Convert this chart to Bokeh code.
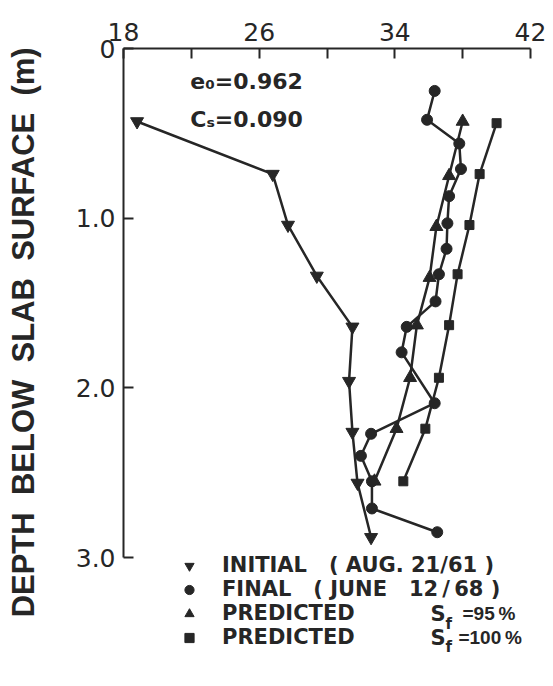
from bokeh.plotting import figure
from bokeh.models import (Range1d, FixedTicker, Legend, LegendItem, Label)
from bokeh.embed import file_html
from bokeh.resources import INLINE

# ---- data ----
initial_x = [18.8, 26.8, 27.7, 29.4, 31.5, 31.3, 31.5, 31.8, 32.6]
initial_d = [0.43, 0.74, 1.04, 1.34, 1.64, 1.96, 2.26, 2.56, 2.88]

final_x = [36.35, 35.9, 37.8, 37.9, 37.2, 37.1, 37.05, 36.6, 36.4, 34.7, 34.4,
           36.35, 32.6, 32.0, 32.65, 32.65, 36.5]
final_d = [0.25, 0.42, 0.56, 0.71, 0.87, 1.03, 1.18, 1.33, 1.49, 1.64, 1.79,
           2.09, 2.27, 2.40, 2.55, 2.71, 2.85]

pred95_x = [38.0, 37.2, 36.45, 36.05, 35.3, 34.9, 34.1, 32.8]
pred95_d = [0.43, 0.75, 1.05, 1.35, 1.63, 1.94, 2.24, 2.55]

pred100_x = [40.0, 39.0, 38.4, 37.7, 37.2, 36.6, 35.8, 34.5]
pred100_d = [0.44, 0.74, 1.04, 1.33, 1.63, 1.94, 2.24, 2.55]

x_major_ticks = [18, 26, 34, 42]
x_minor_ticks = [22, 30, 38]
y_ticks = [0, 1, 2, 3]
y_tick_labels = {0: "0", 1: "1.0", 2: "2.0", 3: "3.0"}

NB = "\u00a0"
TH = "\u2009"
legend_labels = ["INITIAL" + NB * 3 + "(" + NB + "AUG." + NB + "21/61" + NB + ")",
                 "FINAL" + NB * 3 + "(" + NB + "JUNE" + NB * 3 + "12" + TH + "/" + TH + "68" + NB + ")",
                 "PREDICTED", "PREDICTED"]
legend_suffix = ["=95" + TH + "%", "=100" + TH + "%"]
y_title = NB * 7 + (NB * 2).join(["DEPTH", "BELOW", "SLAB", "SURFACE", "(m)"])

INK = "#262626"
FONT = "DejaVu Sans"

p = figure(width=553, height=686, x_range=Range1d(18, 42), y_range=Range1d(3.7, 0),
           x_axis_location="above", output_backend="svg", toolbar_location=None,
           min_border_left=123, min_border_right=23, min_border_top=48,
           min_border_bottom=10)
p.outline_line_color = None
p.xgrid.visible = False
p.ygrid.visible = False
p.background_fill_color = "white"
p.border_fill_color = "white"

# x axis (top)
xa = p.xaxis[0]
xa.ticker = FixedTicker(ticks=x_major_ticks, minor_ticks=x_minor_ticks)
xa.major_tick_in = 10
xa.major_tick_out = 0
xa.minor_tick_in = 10
xa.minor_tick_out = 0
xa.axis_line_width = 2
xa.major_tick_line_width = 2
xa.minor_tick_line_width = 2
xa.axis_line_color = INK
xa.major_tick_line_color = INK
xa.minor_tick_line_color = INK
xa.major_label_text_font = FONT
xa.major_label_text_font_size = "25px"
xa.major_label_text_color = INK
xa.major_label_standoff = 8

# y axis (left)
ya = p.yaxis[0]
ya.ticker = FixedTicker(ticks=y_ticks, minor_ticks=[])
ya.bounds = (0, 3)
ya.major_label_overrides = y_tick_labels
ya.major_tick_in = 10
ya.major_tick_out = 0
ya.minor_tick_in = 0
ya.minor_tick_out = 0
ya.axis_line_width = 2
ya.major_tick_line_width = 2
ya.axis_line_color = INK
ya.major_tick_line_color = INK
ya.major_label_text_font = FONT
ya.major_label_text_font_size = "25px"
ya.major_label_text_color = INK
ya.major_label_standoff = 8
ya.axis_label = y_title
ya.axis_label_text_font = "Liberation Sans"
ya.axis_label_text_font_style = "bold"
ya.axis_label_text_font_size = "31px"
ya.axis_label_text_color = INK
ya.axis_label_standoff = 32

LW = 2.5
series = [
    (initial_x, initial_d, "inverted_triangle", 13),
    (final_x, final_d, "circle", 11),
    (pred95_x, pred95_d, "triangle", 13),
    (pred100_x, pred100_d, "square", 9),
]
marker_renderers = []
for xs, ds, mk, sz in series:
    p.line(xs, ds, line_color=INK, line_width=LW)
    r = p.scatter(xs, ds, marker=mk, size=sz, fill_color=INK, line_color=INK)
    marker_renderers.append(r)

legend = Legend(items=[LegendItem(label=lab, renderers=[r])
                       for lab, r in zip(legend_labels, marker_renderers)],
                location=(51, 27))
legend.border_line_color = None
legend.background_fill_alpha = 0
legend.padding = 0
legend.spacing = 0
legend.margin = 0
legend.glyph_width = 30
legend.glyph_height = 23
legend.label_height = 20
legend.label_standoff = 18
legend.label_text_font = FONT
legend.label_text_font_style = "bold"
legend.label_text_font_size = "21px"
legend.label_text_line_height = 1.0
legend.label_text_color = INK
p.add_layout(legend)

def add_label(x, y, text, size, font=FONT):
    p.add_layout(Label(x=x, y=y, text=text, text_font=font, text_font_style="bold",
                       text_font_size=size, text_color=INK, text_baseline="middle"))

add_label(21.94, 0.197, "e\u2080=0.962", "22px")
add_label(21.94, 0.418, "C\u209b=0.090", "22px")

# "S_f = ..." parts of the two predicted rows
add_label(36.10, 3.329, "S", "21px")
add_label(36.99, 3.388, "f", "15px")
add_label(37.99, 3.329, legend_suffix[0], "19px", "Liberation Sans")
add_label(36.10, 3.471, "S", "21px")
add_label(36.99, 3.529, "f", "15px")
add_label(37.75, 3.471, legend_suffix[1], "19px", "Liberation Sans")

open("out.html", "w").write(file_html(p, INLINE))
